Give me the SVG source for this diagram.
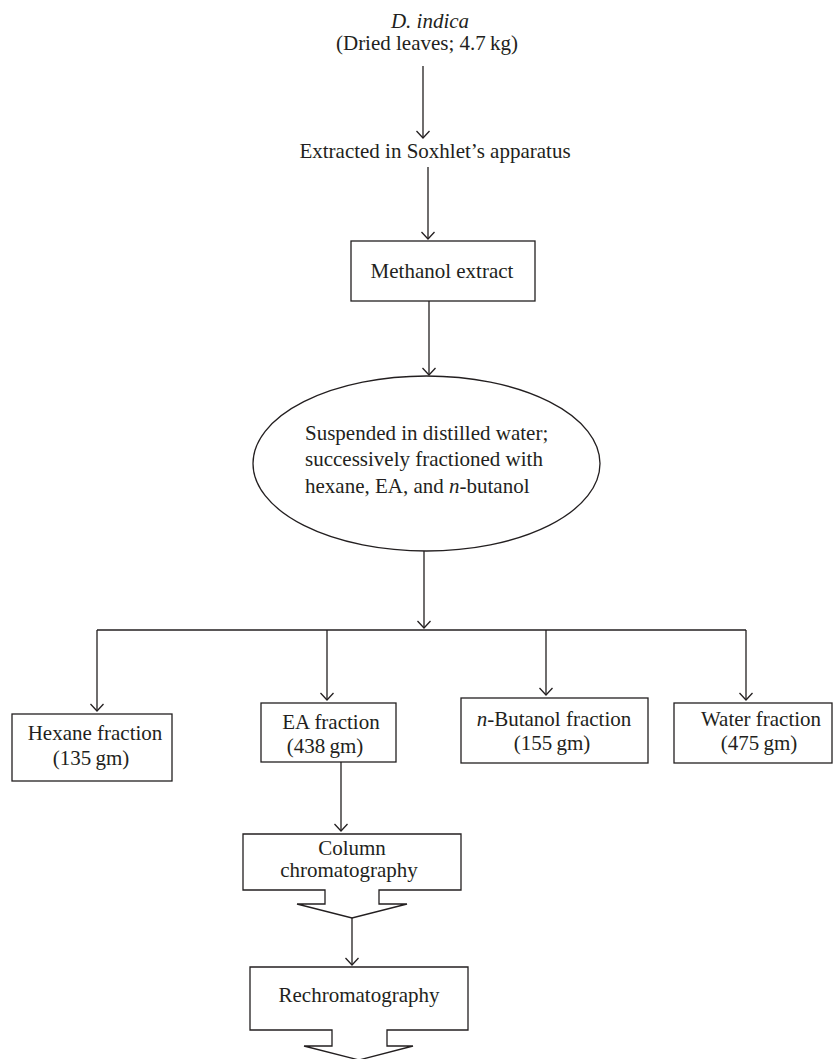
<svg xmlns="http://www.w3.org/2000/svg" width="833" height="1059" viewBox="0 0 833 1059">
<style>
text{font-family:"Liberation Serif","Times New Roman",serif;font-size:21px;fill:#231f20}
.c{text-anchor:middle}
.i{font-style:italic}
.shape{fill:#ffffff;stroke:#231f20;stroke-width:1.3}
.ln{fill:none;stroke:#231f20;stroke-width:1.3}
.arr{marker-end:url(#ah)}
</style>
<defs>
<marker id="ah" viewBox="-9 -8 10 16" markerWidth="10" markerHeight="16" refX="0" refY="0" orient="auto" markerUnits="userSpaceOnUse">
<path d="M-7,-6.5 L0,0 L-7,6.5" fill="none" stroke="#231f20" stroke-width="1.3"/>
</marker>
</defs>
<rect width="833" height="1059" fill="#ffffff"/>
<g id="connectors">
<path class="ln arr" d="M423,66 V138"/>
<path class="ln arr" d="M428,167 V239"/>
<path class="ln arr" d="M429,301 V375"/>
<path class="ln arr" d="M424,551 V628"/>
<path class="ln" d="M97,630 H746"/>
<path class="ln arr" d="M97,630 V711"/>
<path class="ln arr" d="M327,630 V700"/>
<path class="ln arr" d="M546,630 V695"/>
<path class="ln arr" d="M746,630 V700"/>
<path class="ln arr" d="M341,762 V831"/>
<path class="ln arr" d="M352,918 V965"/>
</g>
<g id="source">
<text class="c i" x="430" y="28">D. indica</text>
<text class="c" x="427" y="50">(Dried leaves; 4.7&#8201;kg)</text>
</g>
<g id="soxhlet">
<text class="c" x="435" y="158">Extracted in Soxhlet’s apparatus</text>
</g>
<g id="methanol">
<rect class="shape" x="351" y="241" width="184" height="60"/>
<text class="c" x="442" y="278">Methanol extract</text>
</g>
<g id="suspension">
<ellipse class="shape" cx="426.5" cy="463.5" rx="173.5" ry="87.5"/>
<text x="305" y="440">Suspended in distilled water;</text>
<text x="305" y="466">successively fractioned with</text>
<text x="305" y="493">hexane, EA, and <tspan class="i">n</tspan>-butanol</text>
</g>
<g id="hexane">
<rect class="shape" x="12" y="714" width="160" height="67"/>
<text class="c" x="95" y="740">Hexane fraction</text>
<text class="c" x="91" y="765">(135&#8201;gm)</text>
</g>
<g id="ea">
<rect class="shape" x="261" y="703" width="135" height="59"/>
<text class="c" x="331" y="729">EA fraction</text>
<text class="c" x="325" y="753">(438&#8201;gm)</text>
</g>
<g id="butanol">
<rect class="shape" x="461" y="698" width="187" height="65"/>
<text class="c" x="554" y="726"><tspan class="i">n</tspan>-Butanol fraction</text>
<text class="c" x="552" y="750">(155&#8201;gm)</text>
</g>
<g id="water">
<rect class="shape" x="674" y="703" width="158" height="60"/>
<text class="c" x="761" y="726">Water fraction</text>
<text class="c" x="759" y="750">(475&#8201;gm)</text>
</g>
<g id="column">
<path class="shape" d="M243,834 H461 V890 H379 V904 H407 L352,918 L297,904 H325 V890 H243 Z"/>
<text class="c" x="352" y="855">Column</text>
<text class="c" x="349" y="877">chromatography</text>
</g>
<g id="rechrom">
<path class="shape" d="M250,967 H468 V1030 H387 V1046 H413 L359,1060 L304,1046 H332 V1030 H250 Z"/>
<text class="c" x="359" y="1002">Rechromatography</text>
</g>
</svg>
